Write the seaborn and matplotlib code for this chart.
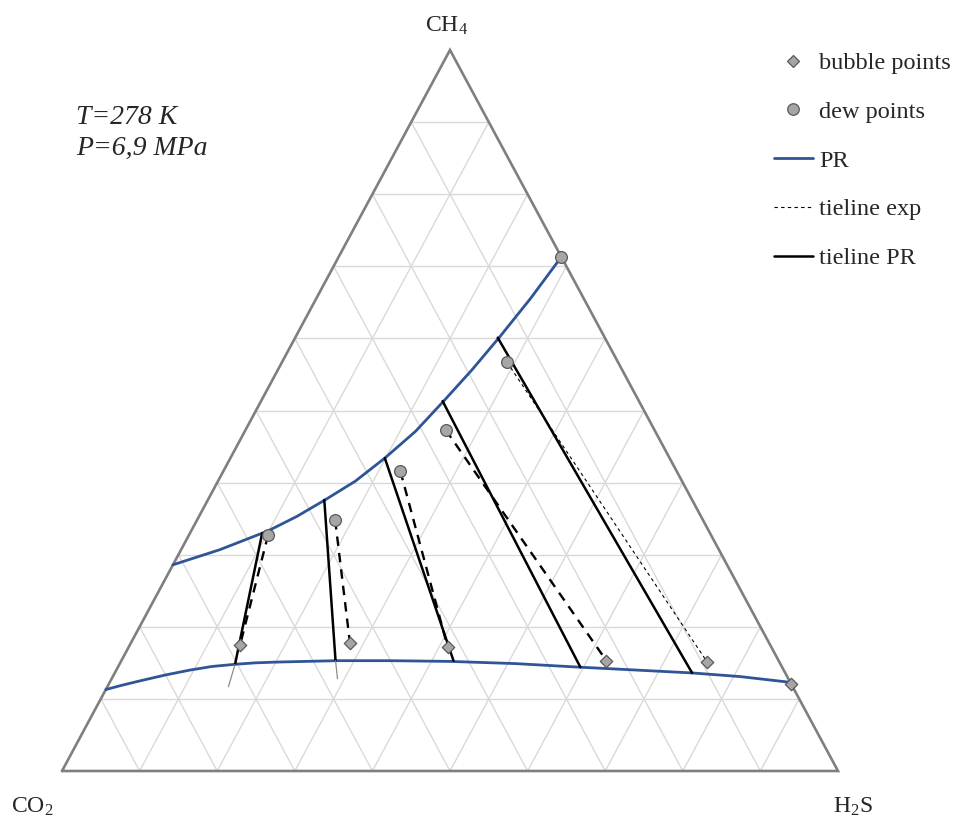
import matplotlib
matplotlib.use("Agg")
import matplotlib.pyplot as plt
from matplotlib.lines import Line2D
import pandas as pd
import seaborn as sns

# Mole fractions given as (CH4, H2S); CO2 = 1 - CH4 - H2S
bubble_ch4 = [0.175, 0.178, 0.172, 0.153, 0.151, 0.121]
bubble_h2s = [0.142, 0.282, 0.411, 0.625, 0.756, 0.879]
dew_ch4 = [0.327, 0.348, 0.416, 0.473, 0.567, 0.713]
dew_h2s = [0.102, 0.178, 0.228, 0.258, 0.290, 0.287]

# Peng-Robinson phase envelope
pr_dew_ch4 = [0.286, 0.307, 0.333, 0.353, 0.376, 0.402, 0.434,
              0.471, 0.515, 0.556, 0.602, 0.655, 0.713]
pr_dew_h2s = [0.000, 0.050, 0.099, 0.126, 0.151, 0.177, 0.199,
              0.220, 0.236, 0.250, 0.263, 0.276, 0.287]
pr_bub_ch4 = [0.113, 0.119, 0.125, 0.133, 0.140, 0.145, 0.148, 0.150, 0.151, 0.152,
              0.153, 0.153, 0.152, 0.149, 0.144, 0.140, 0.136, 0.131, 0.123]
pr_bub_h2s = [0.000, 0.018, 0.038, 0.066, 0.095, 0.121, 0.149, 0.174, 0.199, 0.237,
              0.278, 0.346, 0.424, 0.509, 0.595, 0.670, 0.744, 0.808, 0.877]

# Peng-Robinson tie lines: vapour end and liquid end
tie_v_ch4 = [0.330, 0.376, 0.434, 0.513, 0.601]
tie_v_h2s = [0.093, 0.150, 0.199, 0.234, 0.261]
tie_l_ch4 = [0.148, 0.153, 0.153, 0.144, 0.136]
tie_l_h2s = [0.149, 0.276, 0.428, 0.596, 0.744]
# thin continuation of the first two tie lines past the bubble curve
tie_ext_ch4 = [0.117, 0.128]
tie_ext_h2s = [0.156, 0.291]

labels = ["bubble points", "dew points", "PR", "tieline exp", "tieline PR"]

sns.set_theme(style="white")
plt.rcParams["font.family"] = ["Liberation Serif", "DejaVu Serif"]
plt.rcParams["mathtext.fontset"] = "custom"
plt.rcParams["mathtext.rm"] = "Liberation Serif"
plt.rcParams["mathtext.it"] = "Liberation Serif:italic"

BLUE = "#2F5597"
W, H = 962, 819
fig = plt.figure(figsize=(W / 100, H / 100), dpi=100)
ax = fig.add_axes([62 / W, 48 / H, 776 / W, 721 / H])
ax.set_xlim(0, 1)
ax.set_ylim(0, 1)
ax.axis("off")


def to_xy(ch4, h2s):
    return pd.DataFrame({"x": [h + c / 2 for c, h in zip(ch4, h2s)], "y": list(ch4)})


# triangular grid
for k in range(1, 10):
    f = k / 10
    ax.plot([f / 2, 1 - f / 2], [f, f], color="#D9D9D9", lw=1, zorder=1)
    ax.plot([f, f + (1 - f) / 2], [0, 1 - f], color="#D9D9D9", lw=1, zorder=1)
    ax.plot([1 - f, (1 - f) / 2], [0, 1 - f], color="#D9D9D9", lw=1, zorder=1)
ax.plot([0, 1, 0.5, 0], [0, 0, 1, 0], color="#7F7F7F", lw=1.9, zorder=2,
        solid_joinstyle="miter", clip_on=False)

# phase envelope
sns.lineplot(data=to_xy(pr_dew_ch4, pr_dew_h2s), x="x", y="y", sort=False,
             estimator=None, color=BLUE, lw=2.0, ax=ax, zorder=3)
sns.lineplot(data=to_xy(pr_bub_ch4, pr_bub_h2s), x="x", y="y", sort=False,
             estimator=None, color=BLUE, lw=2.0, ax=ax, zorder=3)

# PR tie lines
rows = []
for i in range(len(tie_v_ch4)):
    v = to_xy([tie_v_ch4[i]], [tie_v_h2s[i]]).iloc[0]
    l = to_xy([tie_l_ch4[i]], [tie_l_h2s[i]]).iloc[0]
    rows += [{"tie": i, "x": v.x, "y": v.y}, {"tie": i, "x": l.x, "y": l.y}]
sns.lineplot(data=pd.DataFrame(rows), x="x", y="y", units="tie", estimator=None,
             sort=False, color="black", lw=1.8, ax=ax, zorder=4)
ext = []
for i in range(len(tie_ext_ch4)):
    l = to_xy([tie_l_ch4[i]], [tie_l_h2s[i]]).iloc[0]
    e = to_xy([tie_ext_ch4[i]], [tie_ext_h2s[i]]).iloc[0]
    ext += [{"tie": i, "x": l.x, "y": l.y}, {"tie": i, "x": e.x, "y": e.y}]
sns.lineplot(data=pd.DataFrame(ext), x="x", y="y", units="tie", estimator=None,
             sort=False, color="#8C8C8C", lw=0.9, ax=ax, zorder=4)

# experimental tie lines (dew point -> bubble point)
dew_xy = to_xy(dew_ch4, dew_h2s)
bub_xy = to_xy(bubble_ch4, bubble_h2s)
for i in range(5):
    seg = pd.DataFrame({"x": [dew_xy.x[i], bub_xy.x[i]], "y": [dew_xy.y[i], bub_xy.y[i]]})
    if i < 4:
        sns.lineplot(data=seg, x="x", y="y", sort=False, estimator=None, color="black",
                     lw=1.7, dashes=False, linestyle=(0, (4, 3)), ax=ax, zorder=4)
    else:
        sns.lineplot(data=seg, x="x", y="y", sort=False, estimator=None, color="black",
                     lw=0.8, dashes=False, linestyle=(0, (3, 3)), ax=ax, zorder=4)

# experimental points
sns.scatterplot(data=bub_xy, x="x", y="y", marker="D", s=40, color="#A6A6A6",
                edgecolor="#595959", linewidth=0.9, ax=ax, zorder=6, clip_on=False)
sns.scatterplot(data=dew_xy, x="x", y="y", marker="o", s=72, color="#A6A6A6",
                edgecolor="#595959", linewidth=0.9, ax=ax, zorder=6, clip_on=False)

# vertex labels
fig.text(447 / W, 1 - 32 / H, r"CH$_4$", ha="center", va="baseline", fontsize=17)
fig.text(32 / W, 1 - 813 / H, r"CO$_2$", ha="center", va="baseline", fontsize=17)
fig.text(853 / W, 1 - 813 / H, r"H$_2$S", ha="center", va="baseline", fontsize=17)

# conditions
fig.text(76 / W, 1 - 124 / H, "T=278 K", ha="left", va="baseline", fontsize=20,
         fontstyle="italic")
fig.text(76 / W, 1 - 155 / H, "P=6,9 MPa", ha="left", va="baseline", fontsize=20,
         fontstyle="italic")

handles = [
    Line2D([], [], marker="D", ls="none", ms=6.3, mfc="#A6A6A6", mec="#595959", mew=0.9),
    Line2D([], [], marker="o", ls="none", ms=8.3, mfc="#A6A6A6", mec="#595959", mew=0.9),
    Line2D([], [], color=BLUE, lw=2.0),
    Line2D([], [], color="black", lw=0.8, ls=(0, (3, 3))),
    Line2D([], [], color="black", lw=1.8),
]
fig.legend(handles, labels, loc="upper left", bbox_to_anchor=(774 / W, 1 - 52 / H),
           frameon=False, fontsize=17.5, handlelength=1.6, handletextpad=0.25,
           labelspacing=1.1, borderpad=0, borderaxespad=0)

fig.savefig("out.png", dpi=100)
